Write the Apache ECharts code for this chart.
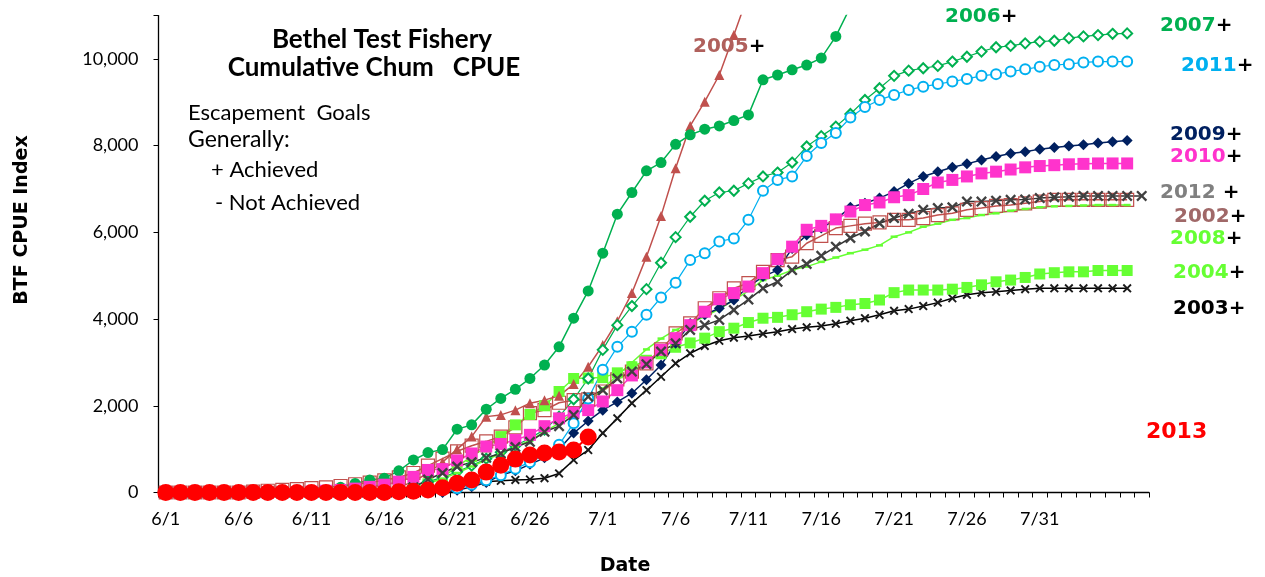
<!DOCTYPE html>
<html>
<head>
<meta charset="utf-8">
<script src="https://cdn.jsdelivr.net/npm/echarts@6/dist/echarts.min.js"></script>
<style>
html,body{margin:0;padding:0;background:#fff;}
#chart{width:1265px;height:577px;}
</style>
</head>
<body>
<div id="chart"></div>
<script>
// ---- categories: daily dates 6/1 .. 8/7 ----
var dates = [];
(function(){
  for (var d = 1; d <= 30; d++) dates.push('6/' + d);
  for (var d2 = 1; d2 <= 31; d2++) dates.push('7/' + d2);
  for (var d3 = 1; d3 <= 7; d3++) dates.push('8/' + d3);
})();

// ---- tick labels ----
var xTickLabels = ['6/1','6/6','6/11','6/16','6/21','6/26','7/1','7/6','7/11','7/16','7/21','7/26','7/31'];
var yTicks = [0, 2000, 4000, 6000, 8000, 10000];

// ---- series values (cumulative CPUE, index 0 = 6/1) ----
var y2002 = [0,0,0,0,0,0,20,40,60,80,100,120,150,190,230,280,350,450,620,780,950,1080,1180,1290,1500,1830,1900,2070,2130,2150,2330,2610,2790,2980,3300,3670,3900,4250,4480,4710,4830,5090,5360,5440,5750,5920,6100,6150,6200,6230,6290,6290,6330,6400,6440,6520,6560,6610,6630,6670,6710,6750,6750,6750,6750,6750,6750];
var y2003 = [0,0,0,0,0,0,0,0,0,0,0,0,0,0,0,0,0,0,20,60,120,200,250,270,290,300,330,440,750,980,1370,1710,2060,2360,2670,2980,3210,3380,3500,3570,3610,3660,3710,3770,3810,3840,3890,3960,4020,4100,4190,4230,4300,4380,4480,4560,4610,4630,4660,4690,4710,4710,4710,4710,4710,4710,4710];
var y2004 = [0,0,0,0,0,0,0,0,0,0,0,0,0,0,0,0,30,80,200,350,600,830,1050,1290,1560,1800,2000,2330,2630,2640,2650,2760,2900,3050,3200,3350,3450,3560,3710,3790,3920,4020,4040,4100,4170,4230,4270,4330,4360,4440,4610,4670,4670,4670,4690,4730,4790,4860,4900,4960,5040,5070,5090,5090,5120,5120,5120];
var y2005 = [0,0,0,0,0,0,0,0,0,0,0,0,0,0,0,50,120,250,450,700,1000,1290,1750,1790,1900,2060,2130,2230,2500,2900,3400,3950,4600,5440,6380,7480,8455,9015,9630,10550,11500];
var y2006 = [0,0,0,0,0,0,0,0,0,0,20,50,120,210,290,330,500,750,920,990,1460,1560,1920,2170,2380,2630,2940,3360,4020,4650,5520,6420,6920,7420,7610,8030,8250,8380,8455,8580,8710,9520,9630,9750,9860,10020,10520,11200];
var y2007 = [0,0,0,0,0,0,0,0,0,0,0,0,0,0,0,40,90,150,250,350,480,620,780,930,1080,1250,1450,1750,2150,2630,3290,3860,4300,4690,5300,5890,6360,6730,6920,6960,7130,7290,7380,7610,7980,8220,8440,8730,9055,9325,9610,9730,9785,9840,9940,10050,10170,10270,10300,10360,10400,10420,10480,10520,10550,10580,10590];
var y2008 = [0,0,0,0,0,0,0,0,0,0,0,0,0,0,0,0,40,100,200,320,450,600,750,900,1050,1200,1400,1600,1850,2100,2400,2700,3000,3300,3550,3750,3900,4060,4230,4440,4650,4900,5000,5130,5210,5320,5420,5520,5600,5700,5900,6000,6130,6200,6290,6330,6400,6440,6500,6540,6580,6600,6610,6620,6630,6630,6630];
var y2009 = [0,0,0,0,0,0,0,0,0,0,0,0,0,0,0,0,0,0,0,0,50,130,230,400,500,650,800,1000,1370,1650,1900,2090,2290,2600,2940,3440,3900,4100,4250,4440,4750,4980,5130,5630,5940,6100,6300,6580,6670,6790,6940,7130,7290,7400,7500,7580,7670,7750,7820,7860,7920,7960,7990,8020,8060,8090,8120];
var y2010 = [0,0,0,0,0,0,0,0,0,0,20,40,60,90,130,180,250,360,520,540,740,900,1060,1120,1210,1330,1530,1710,1840,1900,2100,2360,2700,3000,3290,3560,3860,4170,4460,4600,4750,5060,5380,5670,6060,6150,6300,6480,6630,6690,6810,6860,7000,7150,7210,7290,7360,7400,7450,7500,7530,7550,7570,7580,7590,7590,7590];
var y2011 = [0,0,0,0,0,0,0,0,0,0,0,0,0,0,0,0,0,0,30,60,100,180,280,400,550,700,860,1100,1600,2170,2830,3360,3710,4100,4500,4840,5360,5520,5790,5860,6290,6960,7210,7290,7760,8060,8290,8650,8890,9055,9170,9285,9360,9420,9480,9540,9610,9650,9710,9760,9820,9860,9880,9920,9940,9940,9940];
var y2012 = [0,0,0,0,0,0,0,0,0,0,0,0,0,0,0,0,50,120,300,450,600,700,800,900,1050,1170,1400,1530,1790,2210,2360,2630,2790,2960,3250,3440,3750,3860,3980,4210,4450,4710,4860,5130,5270,5460,5670,5870,6020,6210,6330,6430,6520,6560,6580,6710,6710,6730,6750,6760,6790,6810,6820,6840,6840,6840,6840,6840];
var y2013 = [0,0,0,0,0,0,0,0,0,0,0,0,0,0,0,0,20,30,60,110,215,290,470,630,770,865,910,935,980,1280];

var X_PATH = 'path://M0,1.5 L1.5,0 L5,3.5 L8.5,0 L10,1.5 L6.5,5 L10,8.5 L8.5,10 L5,6.5 L1.5,10 L0,8.5 L3.5,5 Z';

function mk(name, data, o) {
  return {
    name: name, type: 'line', data: data,
    symbol: o.symbol, symbolSize: o.size, showAllSymbol: true,
    lineStyle: { color: o.line, width: o.lw || 1.5 },
    itemStyle: { color: o.fill, borderColor: o.border || o.fill, borderWidth: o.bw || 0 },
    emphasis: { disabled: true },
    clip: true
  };
}

var series = [
  mk('2002', y2002, { symbol: 'rect', size: 13, line: '#c0504d', fill: 'rgba(255,255,255,0)', border: '#c0504d', bw: 1.2 }),
  mk('2003', y2003, { symbol: X_PATH, size: 9, line: '#000', fill: '#1a1a1a' }),
  mk('2004', y2004, { symbol: 'rect', size: 11, line: '#66ff33', fill: '#66ff33' }),
  mk('2005', y2005, { symbol: 'triangle', size: 10, line: '#c0504d', fill: '#c0504d' }),
  mk('2006', y2006, { symbol: 'circle', size: 11, line: '#00b050', fill: '#00b050' }),
  mk('2007', y2007, { symbol: 'emptyDiamond', size: 10, line: '#00b050', fill: '#00b050', lw: 1.2, bw: 1.2 }),
  mk('2008', y2008, { symbol: 'rect', size: [7, 2.5], line: '#66ff33', fill: '#66ff33' }),
  mk('2009', y2009, { symbol: 'diamond', size: 11, line: '#002060', fill: '#002060' }),
  mk('2010', y2010, { symbol: 'rect', size: 12, line: '#ff33cc', fill: '#ff33cc' }),
  mk('2011', y2011, { symbol: 'emptyCircle', size: 10, line: '#00b0f0', fill: '#00b0f0', lw: 1.2, bw: 1.2 }),
  mk('2012', y2012, { symbol: X_PATH, size: 11, line: '#333', fill: '#404040' }),
  mk('2013', y2013, { symbol: 'circle', size: 17, line: '#ff0000', fill: '#ff0000', lw: 2 })
];

var labelFont = 'DejaVu Sans';
function yearLabel(x, y, year, color, plus, size) {
  var fs = size || 20;
  return {
    type: 'text', x: x, y: y, z: 100,
    style: {
      text: '{a|' + year + '}' + (plus ? '{b|' + plus + '}' : ''),
      textVerticalAlign: 'middle',
      rich: {
        a: { fill: color, fontFamily: labelFont, fontWeight: 'bold', fontSize: fs },
        b: { fill: '#000', fontFamily: labelFont, fontWeight: 'bold', fontSize: fs }
      }
    }
  };
}

var txtFont = 'Lato';
var option = {
  animation: false,
  backgroundColor: '#fff',
  grid: { left: 158.5, right: 116, top: 15.6, bottom: 84.5, containLabel: false },
  xAxis: {
    type: 'category', data: dates, boundaryGap: true,
    axisLine: { lineStyle: { color: '#000', width: 1.3 } },
    axisTick: { show: true, interval: 0, length: 5, lineStyle: { color: '#000' } },
    axisLabel: {
      interval: function (idx, val) { return xTickLabels.indexOf(val) >= 0; },
      color: '#000', fontFamily: txtFont, fontSize: 18, margin: 18
    },
    splitLine: { show: false }
  },
  yAxis: {
    type: 'value', min: 0, max: 11000, interval: 2000,
    axisLine: { show: true, lineStyle: { color: '#000', width: 1.3 } },
    axisTick: { show: true, length: 5, lineStyle: { color: '#000' } },
    axisLabel: {
      color: '#000', fontFamily: txtFont, fontSize: 18, margin: 20,
      formatter: function (v) { return yTicks.indexOf(v) >= 0 ? v.toLocaleString('en-US') : ''; }
    },
    splitLine: { show: false }
  },
  series: series,
  graphic: [
    { type: 'text', x: 382, y: 40, z: 100, style: { text: 'Bethel Test Fishery', textAlign: 'center', textVerticalAlign: 'middle', fill: '#000', font: 'bold 26px Lato' } },
    { type: 'text', x: 374, y: 68, z: 100, style: { text: 'Cumulative Chum   CPUE', textAlign: 'center', textVerticalAlign: 'middle', fill: '#000', font: 'bold 26px Lato' } },
    { type: 'text', x: 188, y: 113, z: 100, style: { text: 'Escapement  Goals', textVerticalAlign: 'middle', fill: '#000', font: '22px Lato' } },
    { type: 'text', x: 188, y: 140, z: 100, style: { text: 'Generally:', textVerticalAlign: 'middle', fill: '#000', font: '23px Lato' } },
    { type: 'text', x: 211, y: 170, z: 100, style: { text: '+ Achieved', textVerticalAlign: 'middle', fill: '#000', font: '22px Lato' } },
    { type: 'text', x: 215, y: 203, z: 100, style: { text: '- Not Achieved', textVerticalAlign: 'middle', fill: '#000', font: '22px Lato' } },
    { type: 'text', x: 22, y: 220, rotation: Math.PI / 2, z: 100, style: { text: 'BTF CPUE Index', textAlign: 'center', textVerticalAlign: 'middle', fill: '#000', font: 'bold 19px "DejaVu Sans"' } },
    { type: 'text', x: 625, y: 566, z: 100, style: { text: 'Date', textAlign: 'center', textVerticalAlign: 'middle', fill: '#000', font: 'bold 19px "DejaVu Sans"' } },
    yearLabel(693, 47, '2005', '#b0605c', '+'),
    yearLabel(945, 17, '2006', '#00b050', '+'),
    yearLabel(1160, 26, '2007', '#00b050', '+'),
    yearLabel(1181, 66, '2011', '#00b0f0', '+'),
    yearLabel(1170, 135, '2009', '#002060', '+'),
    yearLabel(1170, 157, '2010', '#ff33cc', '+'),
    yearLabel(1160, 193, '2012', '#808080', ' +'),
    yearLabel(1174, 217, '2002', '#a06868', '+'),
    yearLabel(1170, 239, '2008', '#66ff33', '+'),
    yearLabel(1173, 273, '2004', '#66ff33', '+'),
    yearLabel(1173, 309, '2003', '#000000', '+'),
    yearLabel(1146, 432, '2013', '#ff0000', '', 22)
  ]
};

var chart = echarts.init(document.getElementById('chart'), null, { renderer: 'canvas' });
chart.setOption(option);
</script>
</body>
</html>
